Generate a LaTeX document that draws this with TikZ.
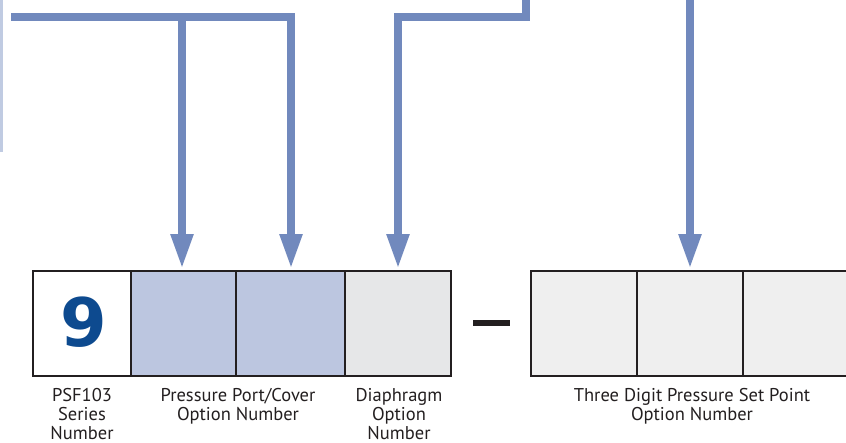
\documentclass[tikz,border=0pt]{standalone}
\usepackage{fontspec}
\setmainfont{PT Sans}
\newfontfamily\ninefont{DejaVu Sans}
\usetikzlibrary{arrows.meta}
\definecolor{arrowblue}{HTML}{7189BD}
\definecolor{boxblue}{HTML}{BCC6E0}
\definecolor{boxgray}{HTML}{E6E7E8}
\definecolor{boxlight}{HTML}{EFEFEF}
\definecolor{stripblue}{HTML}{C0CBE2}
\definecolor{ink}{HTML}{231F20}
\definecolor{nineblue}{HTML}{0D4A8F}
\tikzset{
  cell/.style={draw=ink, line width=2pt, inner sep=0pt, outer sep=0pt, minimum height=105pt},
  feed/.style={draw=arrowblue, line width=8pt, line join=miter},
  feedarrow/.style={feed, -{Triangle[length=35pt,width=21pt]}, shorten >=2pt},
  lbl/.style={anchor=north, align=center, text=ink, font=\fontsize{18.5}{19}\selectfont, inner sep=0pt}
}
\begin{document}
\begin{tikzpicture}[x=1pt,y=-1pt]
\useasboundingbox (0,0) rectangle (846,442);
\fill[stripblue] (0,0) rectangle (3,152);
% cells
\node[cell, fill=white, minimum width=98pt] (c1) at (82,323.5) {};
\node[cell, fill=boxblue, minimum width=105pt] (c2) at (183.5,323.5) {};
\node[cell, fill=boxblue, minimum width=109pt] (c3) at (290.5,323.5) {};
\node[cell, fill=boxgray, minimum width=106pt] (c4) at (398,323.5) {};
\node[cell, fill=boxlight, minimum width=106pt] (d1) at (584,323.5) {};
\node[cell, fill=boxlight, minimum width=106pt] (d2) at (690,323.5) {};
\node[cell, fill=boxlight, minimum width=106pt] (d3) at (796,323.5) {};
\node[text=nineblue, font=\ninefont\bfseries\fontsize{67}{67}\selectfont, inner sep=0pt] (nine) at (84,322) {9};
% dash
\fill[ink] (473,319.5) rectangle (510,326);
% feeders
\coordinate (s1) at (11,17);
\coordinate (j1) at (182,17);
\coordinate (k1) at (291,17);
\coordinate (s2) at (525.5,-5);
\coordinate (k2) at (525.5,17);
\coordinate (j2) at (398,17);
\coordinate (s3) at (690,-5);
\draw[feedarrow] (s1) -- (k1) -- (k1 |- c3.north);
\draw[feedarrow] (j1) -- (j1 |- c2.north);
\draw[feedarrow] (s2) -- (k2) -- (j2) -- (j2 |- c4.north);
\draw[feedarrow] (s3) -- (s3 |- d2.north);
% labels
\node[lbl] (l1) at (82,388.5) {PSF103\\Series\\Number};
\node[lbl] (l2) at (238,388.5) {Pressure Port/Cover\\Option Number};
\node[lbl] (l3) at (399,388.5) {Diaphragm\\Option\\Number};
\node[lbl] (l4) at (692,388.5) {Three Digit Pressure Set Point\\Option Number};
\end{tikzpicture}
\end{document}
